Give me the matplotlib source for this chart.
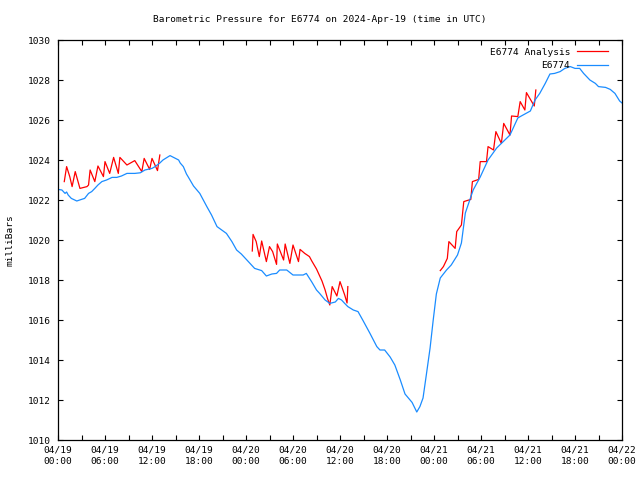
import numpy as np
import matplotlib
matplotlib.use("Agg")
import matplotlib.pyplot as plt

# hours since 2024-04-19 00:00 UTC
blue_h = [0.0, 0.5, 0.9, 1.1, 1.3, 1.7, 2.4, 3.0, 3.4, 3.9, 4.3, 4.7, 5.1, 5.6, 6.2, 6.9, 7.5, 8.1, 8.8, 9.8,
          10.5, 11.1, 12.0, 12.4, 13.0, 13.4, 14.3, 14.9, 15.4, 15.6, 16.0, 16.4, 16.6, 17.3, 18.1, 19.0, 19.6,
          20.3, 20.9, 21.5, 22.2, 22.8, 23.4, 24.3, 25.1, 26.0, 26.6, 27.3, 27.9, 28.3, 29.2, 30.0, 31.3, 31.7,
          32.4, 33.0, 33.4, 34.1, 34.7, 35.4, 35.8, 36.2, 36.6, 37.0, 37.7, 38.3, 38.9, 39.8, 40.7, 41.1, 41.7,
          42.4, 43.0, 43.7, 44.3, 45.2, 45.8, 46.2, 46.6, 47.0, 47.5, 47.9, 48.3, 48.8, 49.6, 50.2, 51.0, 51.5,
          52.0, 53.0, 53.9, 54.9, 56.0, 57.7, 58.7, 59.0, 60.3, 60.9, 61.5, 62.2, 62.8, 63.4, 64.1, 64.7, 65.4,
          66.0, 66.6, 67.1, 67.9, 68.6, 69.0, 69.9, 70.5, 71.1, 71.7, 72.0]
blue_p = [1022.53, 1022.5, 1022.33, 1022.4, 1022.25, 1022.08, 1021.95, 1022.03, 1022.08, 1022.33, 1022.42,
          1022.58, 1022.75, 1022.92, 1023.0, 1023.13, 1023.13, 1023.2, 1023.33, 1023.33, 1023.36, 1023.5,
          1023.58, 1023.67, 1023.85, 1024.0, 1024.22, 1024.1, 1024.0, 1023.85, 1023.67, 1023.3, 1023.17,
          1022.7, 1022.33, 1021.67, 1021.25, 1020.67, 1020.5, 1020.33, 1019.92, 1019.5, 1019.3, 1018.92,
          1018.58, 1018.47, 1018.2, 1018.3, 1018.33, 1018.5, 1018.5, 1018.25, 1018.25, 1018.33, 1017.9,
          1017.5, 1017.33, 1017.0, 1016.83, 1016.9, 1017.08, 1017.0, 1016.83, 1016.67, 1016.5, 1016.42,
          1016.0, 1015.35, 1014.67, 1014.5, 1014.5, 1014.15, 1013.75, 1013.0, 1012.3, 1011.88, 1011.4,
          1011.67, 1012.1, 1013.2, 1014.6, 1016.0, 1017.3, 1018.1, 1018.5, 1018.75, 1019.25, 1019.85,
          1021.35, 1022.5, 1023.15, 1024.0, 1024.6, 1025.25, 1026.1, 1026.17, 1026.45, 1027.0, 1027.33,
          1027.83, 1028.3, 1028.33, 1028.42, 1028.58, 1028.67, 1028.58, 1028.58, 1028.33, 1028.0, 1027.83,
          1027.67, 1027.63, 1027.53, 1027.33, 1026.95, 1026.85]

red1_h = [0.8, 1.1, 1.5, 1.8, 2.2, 2.8, 3.7, 3.9, 4.1, 4.7, 5.1, 5.8, 6.0, 6.6, 7.1, 7.7, 7.9, 8.8, 9.8,
          10.7, 11.0, 11.7, 12.0, 12.7, 13.0]
red1_p = [1022.92, 1023.67, 1023.17, 1022.67, 1023.42, 1022.58, 1022.67, 1022.75, 1023.5, 1022.92, 1023.7,
          1023.17, 1023.92, 1023.33, 1024.13, 1023.33, 1024.13, 1023.75, 1023.97, 1023.42, 1024.08, 1023.53,
          1024.08, 1023.47, 1024.25]
red2_h = [24.8, 24.9, 25.3, 25.7, 26.0, 26.6, 27.0, 27.4, 27.9, 28.0, 28.8, 29.0, 29.6, 30.0, 30.7, 30.9,
          31.5, 32.1, 32.4, 33.0, 33.7, 34.1, 34.4, 34.7, 35.0, 35.6, 36.0, 36.6, 36.9, 37.0]
red2_p = [1019.45, 1020.28, 1019.92, 1019.17, 1019.95, 1018.92, 1019.67, 1019.42, 1018.78, 1019.8, 1019.0,
          1019.8, 1018.83, 1019.75, 1018.92, 1019.53, 1019.33, 1019.17, 1018.95, 1018.55, 1017.95, 1017.5,
          1017.08, 1016.75, 1017.67, 1017.2, 1017.92, 1017.25, 1016.85, 1017.67]
red3_h = [48.8, 49.2, 49.7, 49.9, 50.7, 50.9, 51.5, 51.8, 52.7, 52.9, 53.7, 53.9, 54.7, 54.9, 55.6, 55.9,
          56.6, 56.9, 57.7, 57.9, 58.7, 59.0, 59.6, 59.8, 60.8, 61.0]
red3_p = [1018.47, 1018.67, 1019.08, 1019.92, 1019.58, 1020.42, 1020.75, 1021.92, 1022.03, 1022.92, 1023.03,
          1023.92, 1023.92, 1024.67, 1024.5, 1025.42, 1024.83, 1025.83, 1025.25, 1026.2, 1026.17, 1026.92,
          1026.5, 1027.37, 1026.7, 1027.5]

xtick_hours = [0, 6, 12, 18, 24, 30, 36, 42, 48, 54, 60, 66, 72]
xtick_labels = ["04/19\n00:00", "04/19\n06:00", "04/19\n12:00", "04/19\n18:00",
                "04/20\n00:00", "04/20\n06:00", "04/20\n12:00", "04/20\n18:00",
                "04/21\n00:00", "04/21\n06:00", "04/21\n12:00", "04/21\n18:00",
                "04/22\n00:00"]
ytick_values = [1010, 1012, 1014, 1016, 1018, 1020, 1022, 1024, 1026, 1028, 1030]

plt.rcParams['font.family'] = ['DejaVu Sans Mono']
FS = 6.8
RED = '#ff0000'
BLUE = '#1a8cff'

fig = plt.figure(figsize=(6.4, 4.8), dpi=100)
ax = fig.add_axes([58/640, 40/480, 564/640, 400/480])

red_h = red1_h + [np.nan] + red2_h + [np.nan] + red3_h
red_p = red1_p + [np.nan] + red2_p + [np.nan] + red3_p
ax.plot(red_h, red_p, color=RED, lw=0.9, label='E6774 Analysis')
ax.plot(blue_h, blue_p, color=BLUE, lw=0.9, label='E6774')

ax.set_xlim(0, 72)
ax.set_ylim(1010, 1030)
ax.set_xticks(xtick_hours)
ax.set_xticklabels(xtick_labels, fontsize=FS, linespacing=1.3)
ax.set_xticks(np.arange(3, 72, 6), minor=True)
ax.set_yticks(ytick_values)
ax.set_yticklabels([str(v) for v in ytick_values], fontsize=FS)
ax.tick_params(axis='both', which='both', direction='in', top=True, right=True,
               length=3.5, width=0.8, color='black')
ax.tick_params(axis='x', which='major', pad=4)
ax.tick_params(axis='y', which='major', pad=5)
for s in ax.spines.values():
    s.set_linewidth(0.9)
    s.set_color('black')

ax.set_ylabel('milliBars', fontsize=FS, labelpad=10)
fig.text(0.5, 1 - 19/480, 'Barometric Pressure for E6774 on 2024-Apr-19 (time in UTC)',
         fontsize=FS, ha='center', va='center')

leg = ax.legend(loc='upper right', bbox_to_anchor=(0.985, 0.995), frameon=False, markerfirst=False,
                fontsize=FS, handlelength=3.3, handletextpad=0.7, labelspacing=0.45, borderaxespad=0.2)

fig.savefig('out.png', dpi=100)
